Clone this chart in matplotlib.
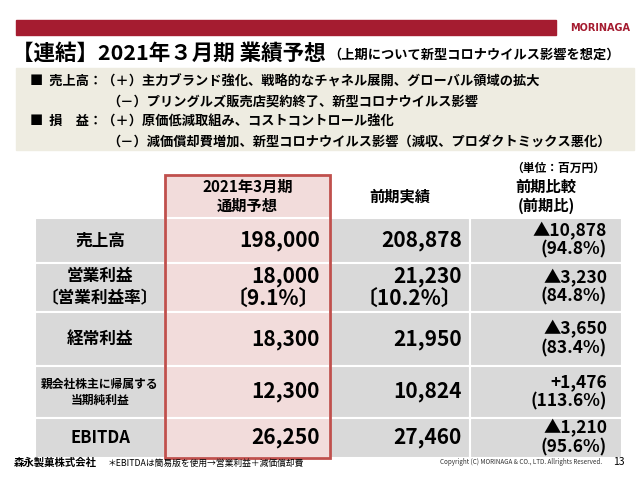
import matplotlib
matplotlib.use("Agg")
import matplotlib.pyplot as plt
from matplotlib.patches import Rectangle

plt.rcParams["font.family"] = "Noto Sans CJK JP"

# table data (単位：百万円)
row_labels = ["売上高", "営業利益\n〔営業利益率〕", "経常利益", "親会社株主に帰属する\n当期純利益", "EBITDA"]
forecast = ["198,000", "18,000\n〔9.1%〕", "18,300", "12,300", "26,250"]
previous = ["208,878", "21,230\n〔10.2%〕", "21,950", "10,824", "27,460"]
change = ["▲10,878\n(94.8%)", "▲3,230\n(84.8%)", "▲3,650\n(83.4%)", "+1,476\n(113.6%)", "▲1,210\n(95.6%)"]
col_headers = ["2021年3月期\n通期予想", "前期実績", "前期比較\n(前期比)"]

bullets = [
    ("■  売上高：（＋）主力ブランド強化、戦略的なチャネル展開、グローバル領域の拡大", 30),
    ("（－）プリングルズ販売店契約終了、新型コロナウイルス影響", 107),
    ("■  損　益：（＋）原価低減取組み、コストコントロール強化", 30),
    ("（－）減価償却費増加、新型コロナウイルス影響（減収、プロダクトミックス悪化）", 107),
]

fig = plt.figure(figsize=(6.4, 4.8), dpi=100)
ax = fig.add_axes([0, 0, 1, 1])
ax.set_xlim(0, 640)
ax.set_ylim(480, 0)
ax.axis("off")

red = "#a51c30"
# header bar
ax.add_patch(Rectangle((16, 20), 540, 15, color=red))
ax.text(630, 28, "MORINAGA", color=red, fontsize=7, fontweight="bold", ha="right", va="center",
        family="DejaVu Sans")
ax.text(12, 53, "【連結】2021年３月期 業績予想", fontsize=15.5, fontweight="bold", va="center")
ax.text(328, 55, "（上期について新型コロナウイルス影響を想定）", fontsize=9.5, fontweight="bold", va="center")

# beige box
ax.add_patch(Rectangle((16, 68), 618, 82, color="#eeece1"))
for i, (txt, x) in enumerate(bullets):
    ax.text(x, 82 + i * 20, txt, fontsize=9.5, fontweight="bold", va="center")
ax.text(605, 168, "（単位：百万円）", fontsize=8.5, fontweight="bold", ha="right", va="center")

# table geometry
col_x = [35, 165, 330, 470, 622]
row_y = [175, 218, 263, 312, 366, 418, 458]
gray = "#d9d9d9"
pink = "#f2dcdb"

for j, h in enumerate(col_headers):
    x0, x1 = col_x[j + 1], col_x[j + 2]
    if j == 0:
        ax.add_patch(Rectangle((x0, row_y[0]), x1 - x0, row_y[1] - row_y[0], color=pink))
    ax.text((x0 + x1) / 2, (row_y[0] + row_y[1]) / 2, h, fontsize=11, fontweight="bold",
            ha="center", va="center", linespacing=1.2)

for i in range(len(row_labels)):
    y0, y1 = row_y[i + 1], row_y[i + 2]
    yc = (y0 + y1) / 2
    for j in range(4):
        x0, x1 = col_x[j], col_x[j + 1]
        fc = pink if j == 1 else gray
        ax.add_patch(Rectangle((x0, y0), x1 - x0, y1 - y0, facecolor=fc, edgecolor="white", lw=1.5))
    fs = 8.5 if i == 3 else 12
    ax.text((col_x[0] + col_x[1]) / 2, yc, row_labels[i], fontsize=fs, fontweight="bold",
            ha="center", va="center", linespacing=1.3)
    ax.text(col_x[2] - 10, yc, forecast[i], fontsize=15, fontweight="bold", ha="right", va="center",
            linespacing=1.05)
    ax.text(col_x[3] - 8, yc, previous[i], fontsize=15, fontweight="bold", ha="right", va="center",
            linespacing=1.05)
    ax.text(col_x[4] - 15, yc, change[i], fontsize=12.5, fontweight="bold", ha="right", va="center",
            linespacing=1.05)

ax.add_patch(Rectangle((col_x[1], row_y[0]), col_x[2] - col_x[1], row_y[-1] - row_y[0],
                       fill=False, edgecolor="#c0504d", lw=2))

# footer
ax.text(14, 463, "森永製菓株式会社", fontsize=7.5, fontweight="bold", va="center")
ax.text(108, 463, "＊EBITDAは簡易版を使用→営業利益＋減価償却費", fontsize=6.3, va="center")
ax.text(602, 462, "Copyright (C) MORINAGA & CO., LTD. Allrights Reserved.", fontsize=4.5,
        ha="right", va="center", color="#333333")
ax.text(625, 462, "13", fontsize=7.5, ha="right", va="center")

fig.savefig("out.png", dpi=100)
